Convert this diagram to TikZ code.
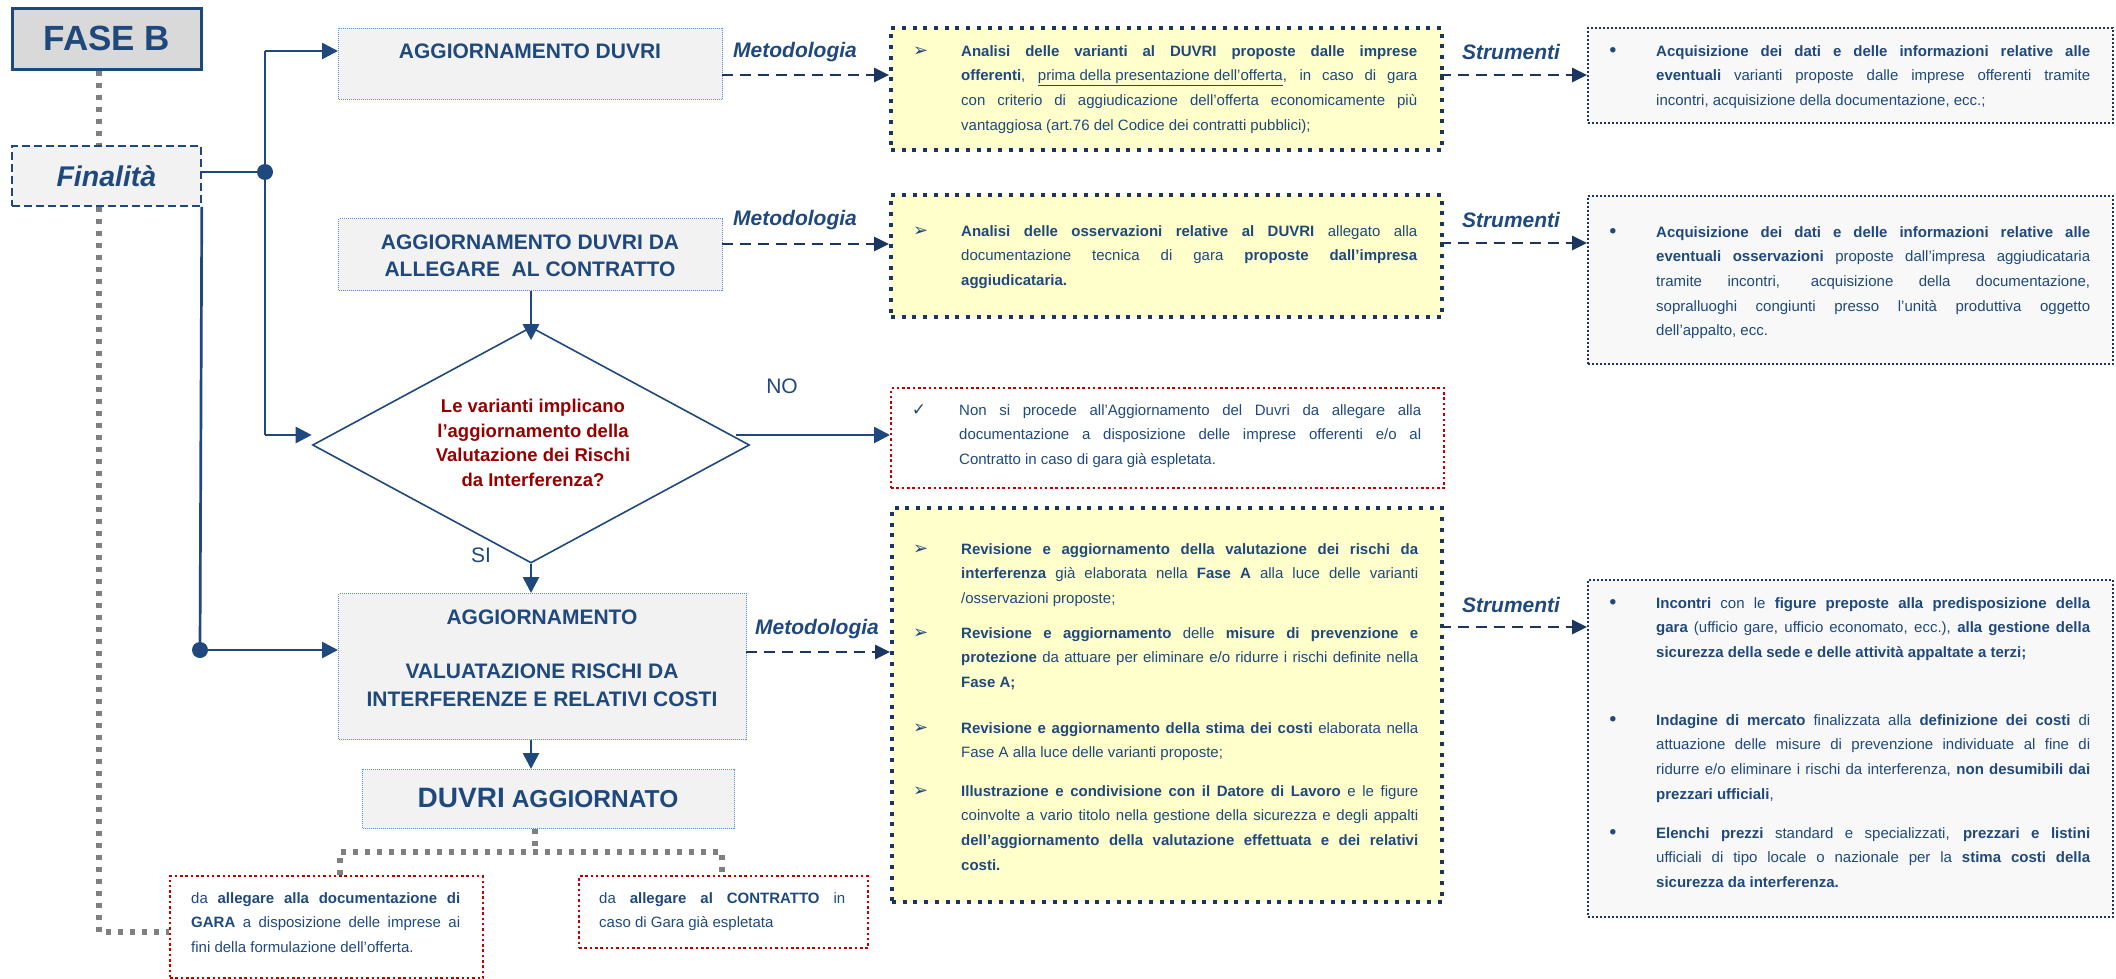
\documentclass[tikz,border=0pt]{standalone}
\usepackage{fontspec}
\setmainfont{Liberation Sans}
\newfontfamily\dejavu{DejaVu Sans}
\usetikzlibrary{arrows.meta,shapes.geometric}
\hyphenpenalty=10000
\exhyphenpenalty=10000
\setlength{\parindent}{0pt}
\emergencystretch=20pt
\definecolor{tblue}{RGB}{31,73,125}
\definecolor{navy}{RGB}{26,54,96}
\definecolor{lblue}{RGB}{85,142,213}
\definecolor{rline}{RGB}{192,0,0}
\definecolor{dtext}{RGB}{150,0,0}
\definecolor{grayln}{RGB}{128,128,128}
\definecolor{yel}{RGB}{255,255,204}
\definecolor{g95}{RGB}{242,242,242}
\definecolor{g97}{RGB}{248,248,248}
\definecolor{g85}{RGB}{217,217,217}
\newcommand{\arrbul}{\leavevmode\llap{{\dejavu\fontsize{18}{20}\selectfont ➢}\hskip33pt}}
\newcommand{\dotbul}{\leavevmode\llap{{\bfseries\fontsize{19}{20}\selectfont •}\hskip40pt}}
\newcommand{\chkbul}{\leavevmode\llap{{\dejavu\fontsize{17}{20}\selectfont ✓}\hskip33pt}}
\begin{document}
\begin{tikzpicture}[x=1pt,y=-1pt,
 conn/.style={draw=tblue, line width=2.7pt},
 arr/.style={conn, -{Triangle[length=16pt,width=16pt]}},
 darr/.style={draw=navy, line width=2.7pt, dash pattern=on 11pt off 7pt, -{Triangle[length=15pt,width=14pt]}},
 gline/.style={draw=grayln, line width=5.5pt, dash pattern=on 5pt off 7pt},
 dot/.style={circle, fill=tblue, inner sep=0pt, minimum size=16pt},
 tbox/.style={draw=lblue, fill=g95, line width=1pt, dash pattern=on 1pt off 1pt, inner sep=0pt, anchor=north west},
 ybox/.style={draw=navy, fill=yel, line width=4pt, dash pattern=on 4pt off 6.7pt, inner sep=0pt, anchor=north west},
 sbox/.style={draw=navy, fill=g97, line width=2pt, dash pattern=on 2pt off 2pt, inner sep=0pt, anchor=north west},
 rbox/.style={draw=rline, line width=2.2pt, dash pattern=on 2.5pt off 2.8pt, inner sep=0pt, anchor=north west},
 ttl/.style={text=tblue, font=\bfseries\fontsize{21}{27.3}\selectfont, align=center, inner sep=0pt},
 lbl/.style={text=tblue, font=\bfseries\itshape\fontsize{21}{25}\selectfont, inner sep=0pt},
 body/.style={text=tblue, font=\fontsize{15}{24.7}\selectfont, align=justify, inner sep=0pt, anchor=north west},
]
\useasboundingbox (0,0) rectangle (2116,979);

% left column
\node[draw=tblue, fill=g85, line width=2.7pt, minimum width=189pt, minimum height=61pt, anchor=north west, inner sep=0pt,
      text=tblue, font=\bfseries\fontsize{35}{40}\selectfont] (fase) at (11,7) {FASE B};
\node[draw=tblue, fill=g95, line width=1.8pt, dash pattern=on 8pt off 4pt, minimum width=189pt, minimum height=60pt,
      anchor=north west, inner sep=0pt, text=tblue, font=\bfseries\itshape\fontsize{28.5}{32}\selectfont] (fin) at (11,145) {Finalità};

% title boxes
\node[tbox, minimum width=384pt, minimum height=71pt] (bA) at (338,28) {};
\node[ttl] (tA) at (530,51) {AGGIORNAMENTO DUVRI};
\node[tbox, minimum width=384pt, minimum height=72pt] (bB) at (338,218) {};
\node[ttl] (tB) at (530,255.5) {AGGIORNAMENTO DUVRI DA\\ALLEGARE\ \ AL CONTRATTO};
\node[tbox, minimum width=408pt, minimum height=146pt] (bC) at (338,593) {};
\node[ttl] (tC) at (542,658) {AGGIORNAMENTO\\[27.3pt]VALUATAZIONE RISCHI DA\\INTERFERENZE E RELATIVI COSTI};
\node[tbox, minimum width=372pt, minimum height=59pt] (bD) at (362,769) {};
\node[text=tblue, inner sep=0pt, font=\bfseries] (tD) at (548,798) {{\fontsize{28}{30}\selectfont DUVRI}\hskip7pt{\fontsize{24.5}{30}\selectfont AGGIORNATO}};

% diamond
\node[diamond, draw=tblue, fill=white, line width=1.6pt, minimum width=437pt, minimum height=236pt, inner sep=0pt] (dia) at (531,445) {};
\node[text=dtext, font=\bfseries\fontsize{18.5}{24.7}\selectfont, align=center, inner sep=0pt] (tdia) at (533,443)
  {Le varianti implicano\\l’aggiornamento della\\Valutazione dei Rischi\\da Interferenza?};
\node[text=tblue, font=\fontsize{21}{25}\selectfont, inner sep=0pt] (no) at (782,386) {NO};
\node[text=tblue, font=\fontsize{21}{25}\selectfont, inner sep=0pt] (si) at (481,555) {SI};

% labels
\node[lbl] (m1) at (795,52) {Metodologia};
\node[lbl] (m2) at (795,220) {Metodologia};
\node[lbl] (m3) at (817,629) {Metodologia};
\node[lbl] (s1l) at (1511,52) {Strumenti};
\node[lbl] (s2l) at (1511,220) {Strumenti};
\node[lbl] (s3l) at (1511,605) {Strumenti};

% yellow boxes
\node[ybox, minimum width=551pt, minimum height=122pt] (y1) at (889,26) {};
\node[body, text width=456pt] (ty1) at (961,45) {\arrbul\textbf{Analisi delle varianti al DUVRI proposte dalle imprese}\linebreak
 \textbf{offerenti}, \underline{prima della presentazione dell’offerta}, in caso di gara\linebreak
 con criterio di aggiudicazione dell’offerta economicamente più\linebreak
 vantaggiosa (art.76 del Codice dei contratti pubblici);};
\node[ybox, minimum width=551pt, minimum height=122pt] (y2) at (889,193) {};
\node[body, text width=456pt] (ty2) at (961,225) {\arrbul\textbf{Analisi delle osservazioni relative al DUVRI} allegato alla\linebreak
 documentazione tecnica di gara \textbf{proposte dall’impresa}\linebreak
 \textbf{aggiudicataria.}};
\node[ybox, minimum width=550pt, minimum height=394pt] (y3) at (890,506) {};
\node[body, text width=457pt] (ty3a) at (961,543) {\arrbul\textbf{Revisione e aggiornamento della valutazione dei rischi da}\linebreak
 \textbf{interferenza} già elaborata nella \textbf{Fase A} alla luce delle varianti\linebreak
 /osservazioni proposte;};
\node[body, text width=457pt] (ty3b) at (961,627) {\arrbul\textbf{Revisione e aggiornamento} delle \textbf{misure di prevenzione e}\linebreak
 \textbf{protezione} da attuare per eliminare e/o ridurre i rischi definite nella\linebreak
 \textbf{Fase A;}};
\node[body, text width=457pt] (ty3c) at (961,722) {\arrbul\textbf{Revisione e aggiornamento della stima dei costi} elaborata nella\linebreak
 Fase A alla luce delle varianti proposte;};
\node[body, text width=457pt] (ty3d) at (961,785) {\arrbul\textbf{Illustrazione e condivisione con il Datore di Lavoro} e le figure\linebreak
 coinvolte a vario titolo nella gestione della sicurezza e degli appalti\linebreak
 \textbf{dell’aggiornamento della valutazione effettuata e dei relativi}\linebreak
 \textbf{costi.}};

% strumenti boxes
\node[sbox, minimum width=525pt, minimum height=95pt] (s1) at (1587,27) {};
\node[body, text width=434pt] (ts1) at (1656,45) {\dotbul\textbf{Acquisizione dei dati e delle informazioni relative alle}\linebreak
 \textbf{eventuali} varianti proposte dalle imprese offerenti tramite\linebreak
 incontri, acquisizione della documentazione, ecc.;};
\node[sbox, minimum width=525pt, minimum height=168pt] (s2) at (1587,195) {};
\node[body, text width=434pt] (ts2) at (1656,226) {\dotbul\textbf{Acquisizione dei dati e delle informazioni relative alle}\linebreak
 \textbf{eventuali osservazioni} proposte dall’impresa aggiudicataria\linebreak
 tramite incontri, acquisizione della documentazione,\linebreak
 sopralluoghi congiunti presso l’unità produttiva oggetto\linebreak
 dell’appalto, ecc.};
\node[sbox, minimum width=525pt, minimum height=337pt] (s3) at (1587,579) {};
\node[body, text width=434pt] (ts3a) at (1656,597) {\dotbul\textbf{Incontri} con le \textbf{figure preposte alla predisposizione della}\linebreak
 \textbf{gara} (ufficio gare, ufficio economato, ecc.), \textbf{alla gestione della}\linebreak
 \textbf{sicurezza della sede e delle attività appaltate a terzi;}};
\node[body, text width=434pt] (ts3b) at (1656,714) {\dotbul\textbf{Indagine di mercato} finalizzata alla \textbf{definizione dei costi} di\linebreak
 attuazione delle misure di prevenzione individuate al fine di\linebreak
 ridurre e/o eliminare i rischi da interferenza, \textbf{non desumibili dai}\linebreak
 \textbf{prezzari ufficiali},};
\node[body, text width=434pt] (ts3c) at (1656,827) {\dotbul\textbf{Elenchi prezzi} standard e specializzati, \textbf{prezzari e listini}\linebreak
 ufficiali di tipo locale o nazionale per la \textbf{stima costi della}\linebreak
 \textbf{sicurezza da interferenza.}};

% red boxes
\node[rbox, minimum width=553pt, minimum height=100pt] (rNO) at (890,387) {};
\node[body, text width=462pt] (tNO) at (959,404) {\chkbul Non si procede all’Aggiornamento del Duvri da allegare alla\linebreak
 documentazione a disposizione delle imprese offerenti e/o al\linebreak
 Contratto in caso di gara già espletata.};
\node[rbox, minimum width=313pt, minimum height=102pt] (rBL) at (169,875) {};
\node[body, text width=269pt] (tBL) at (191,892) {da \textbf{allegare alla documentazione di}\linebreak
 \textbf{GARA} a disposizione delle imprese ai\linebreak
 fini della formulazione dell’offerta.};
\node[rbox, minimum width=289pt, minimum height=72pt] (rBR) at (578,875) {};
\node[body, text width=246pt] (tBR) at (599,892) {da \textbf{allegare al CONTRATTO} in\linebreak
 caso di Gara già espletata};

% gray dotted links
\coordinate (g1) at (99,932);
\draw[gline] (fase.south -| g1) -- (fin.north -| g1);
\draw[gline] (fin.south -| g1) -- (g1) -- (g1 -| rBL.west);
\coordinate (g2) at (535,852);
\coordinate (g3) at (340,852);
\coordinate (g4) at (722,852);
\draw[gline] (bD.south -| g2) -- (g2);
\draw[gline] (rBL.north -| g3) -- (g3) -- (g4) -- (rBR.north -| g4);

% blue connectors
\coordinate (jA) at (265,51);
\coordinate (jD) at (265,435);
\node[dot] (d1) at (265,172) {};
\node[dot] (d2) at (200,650) {};
\draw[conn] (fin.east |- d1) -- (d1);
\draw[conn] (jA) -- (jD);
\draw[arr] (jA) -- (jA -| bA.west);
\draw[arr] (jD) -- (jD -| dia.west);
\draw[conn] (fin.south east) -- (d2);
\draw[arr] (d2) -- (d2 -| bC.west);
\draw[arr, shorten >=-14pt] (bB.south -| dia.north) -- (dia.north);
\draw[arr] (dia.south) -- (dia.south |- bC.north);
\draw[arr] (dia.south |- bC.south) -- (dia.south |- bD.north);
\coordinate (jN) at (736,435);
\draw[arr] (jN) -- (jN -| rNO.west);

% dashed arrows
\coordinate (a1) at (722,75);
\coordinate (b1) at (1440,75);
\coordinate (a2) at (722,244);
\coordinate (b2) at (1440,243);
\coordinate (a3) at (746,652);
\coordinate (b3) at (1440,627);
\draw[darr] (a1) -- (a1 -| y1.west);
\draw[darr] (b1) -- (b1 -| s1.west);
\draw[darr] (a2) -- (a2 -| y2.west);
\draw[darr] (b2) -- (b2 -| s2.west);
\draw[darr] (a3) -- (a3 -| y3.west);
\draw[darr] (b3) -- (b3 -| s3.west);
\end{tikzpicture}
\end{document}
